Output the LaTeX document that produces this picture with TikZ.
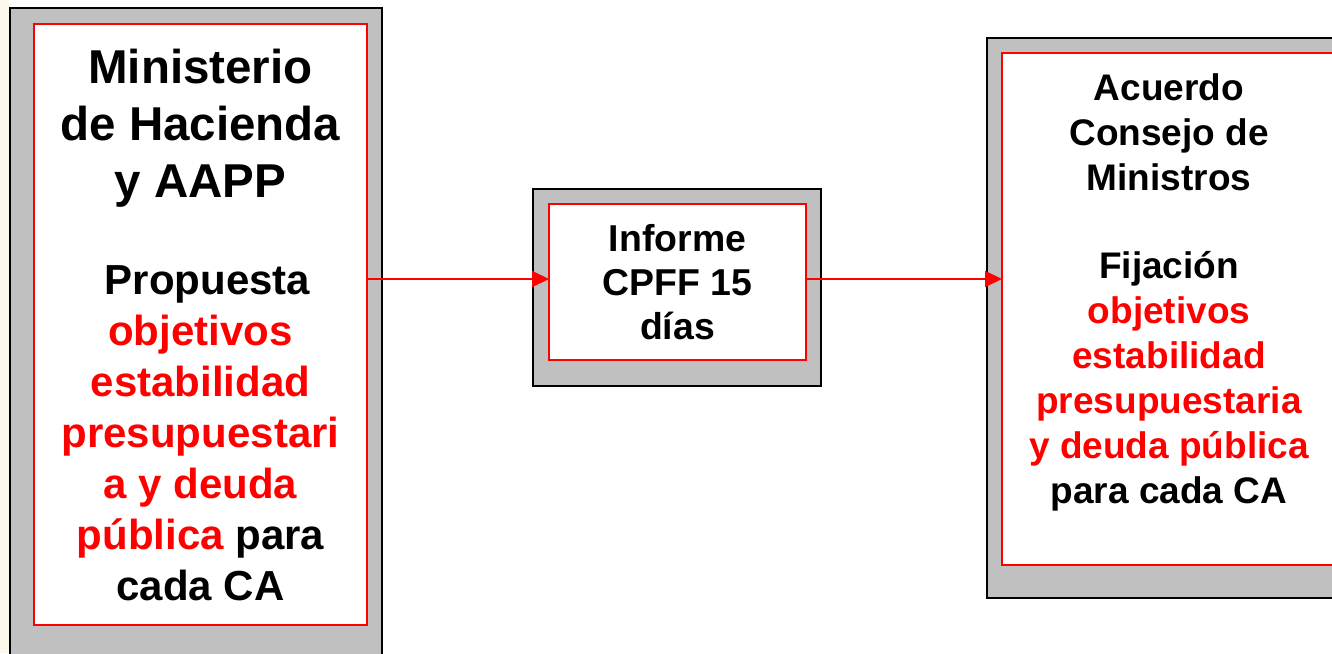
\documentclass[tikz,border=0pt]{standalone}
\usepackage{fontspec}
\setmainfont{Liberation Sans}
\usetikzlibrary{arrows.meta}
\definecolor{frame}{HTML}{C0C0C0}
\definecolor{cream}{HTML}{FDF8EC}
\tikzset{
  outerbox/.style={draw=black, fill=frame, line width=2pt, inner sep=0pt, outer sep=0pt},
  innerbox/.style={draw=red, fill=white, line width=2pt, inner sep=0pt, outer sep=0pt},
  txt/.style={inner sep=0pt, outer sep=0pt, align=center},
  flow/.style={draw=red, line width=2pt, -{Triangle[length=17pt,width=16pt]}}
}
\begin{document}
\begin{tikzpicture}[x=1pt,y=-1pt]
\useasboundingbox (0,0) rectangle (1332,653);
\fill[cream] (0,0) rectangle (9,653);
% left
\node[outerbox, minimum width=372pt, minimum height=672pt] (lout) at (196,344) {};
\node[innerbox, minimum width=333pt, minimum height=601pt] (lin) at (200.5,324.5) {};
\node[txt, font=\bfseries\fontsize{47.5}{57}\selectfont] (lt1) at (200.5,128) {Ministerio\\de Hacienda\\y AAPP};
\node[txt, font=\bfseries\fontsize{42}{51}\selectfont] (lt2) at (200.5,433.5) {\hspace*{14pt}Propuesta\\\textcolor{red}{objetivos}\\\textcolor{red}{estabilidad}\\\textcolor{red}{presupuestari}\\\textcolor{red}{a y deuda}\\\textcolor{red}{pública} para\\cada CA};
% middle
\node[outerbox, minimum width=288pt, minimum height=197pt] (mout) at (677,287.5) {};
\node[innerbox, minimum width=257pt, minimum height=156pt] (min) at (677.5,282) {};
\node[txt, font=\bfseries\fontsize{37.4}{44}\selectfont] (mt) at (677.5,282.5) {Informe\\CPFF 15\\días};
% right
\node[outerbox, minimum width=364pt, minimum height=560pt] (rout) at (1169,318) {};
\node[innerbox, minimum width=334pt, minimum height=512pt] (rin) at (1169,309) {};
\node[txt, font=\bfseries\fontsize{37}{45}\selectfont] (rt1) at (1169,132) {Acuerdo\\Consejo de\\Ministros};
\node[txt, font=\bfseries\fontsize{37}{45}\selectfont] (rt2) at (1169,381.5) {Fijación\\\textcolor{red}{objetivos}\\\textcolor{red}{estabilidad}\\\textcolor{red}{presupuestaria}\\\textcolor{red}{y deuda pública}\\para cada CA};
% arrows
\coordinate (a1) at (lin.east |- 0,279);
\coordinate (a2) at (min.west |- 0,279);
\coordinate (a3) at (min.east |- 0,279);
\coordinate (a4) at (rin.west |- 0,279);
\draw[flow] (a1) -- (a2);
\draw[flow] (a3) -- (a4);
\end{tikzpicture}
\end{document}
